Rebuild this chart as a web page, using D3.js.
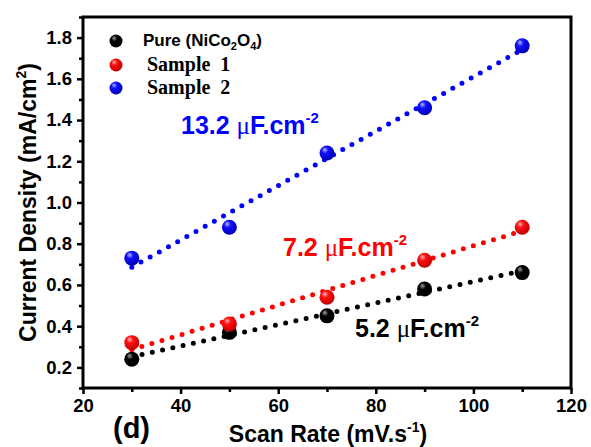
<!DOCTYPE html>
<html>
<head>
<meta charset="utf-8">
<script src="https://cdn.jsdelivr.net/npm/d3@7"></script>
<style>
  html, body { margin: 0; padding: 0; background: #fff; }
  svg { display: block; font-family: "Liberation Sans", Arial, sans-serif; font-weight: bold; }
</style>
</head>
<body>
<svg id="chart" width="591" height="447"></svg>
<script>
// Scan rates (mV/s)
const scanRates = [30, 50, 70, 90, 110];
// Current density (mA/cm^2) for each sample
const pureValues = [0.24, 0.37, 0.45, 0.58, 0.66];
const sample1Values = [0.32, 0.41, 0.54, 0.72, 0.88];
const sample2Values = [0.73, 0.88, 1.24, 1.46, 1.76];
// Double-layer capacitance stated for each fit (uF/cm^2)
const capacitances = [5.2, 7.2, 13.2];
const seriesNames = ["Pure", "Sample  1", "Sample  2"];
const seriesColors = ["#000000", "#ff0000", "#0000ff"];
// Axis ticks
const xTicks = [20, 40, 60, 80, 100, 120];
const xMinorTicks = [30, 50, 70, 90, 110];
const yTicks = [0.2, 0.4, 0.6, 0.8, 1.0, 1.2, 1.4, 1.6, 1.8];
const yMinorTicks = [0.1, 0.3, 0.5, 0.7, 0.9, 1.1, 1.3, 1.5, 1.7, 1.9];

const sans = "'Liberation Sans', Arial, sans-serif";
const serif = "'Liberation Serif', 'Times New Roman', serif";

const svg = d3.select("#chart");
const plot = { left: 83, top: 17, right: 571, bottom: 388 };

const x = d3.scaleLinear().domain([20, 120]).range([plot.left, plot.right]);
const y = d3.scaleLinear().domain([0.1, 1.9]).range([plot.bottom, plot.top]);

// Glossy sphere gradients for markers
const defs = svg.append("defs");
const sphereStops = [
  ["#a0a0a0", "#000000", "#000000"],
  ["#ffb8b8", "#ff1010", "#c00000"],
  ["#b8b8ff", "#1010ff", "#0000b0"]
];
sphereStops.forEach((s, i) => {
  const g = defs.append("radialGradient")
    .attr("id", "sphere" + i)
    .attr("cx", "40%").attr("cy", "35%").attr("r", "65%")
    .attr("fx", "35%").attr("fy", "28%");
  g.append("stop").attr("offset", "0%").attr("stop-color", s[0]);
  g.append("stop").attr("offset", "35%").attr("stop-color", s[1]);
  g.append("stop").attr("offset", "100%").attr("stop-color", s[2]);
});

// Axes
svg.append("g").attr("transform", `translate(${plot.left},0)`)
  .call(d3.axisLeft(y).tickValues(yTicks).tickSize(6).tickPadding(5).tickFormat(d3.format(".1f")));
svg.append("g").attr("transform", `translate(${plot.left},0)`)
  .call(d3.axisLeft(y).tickValues(yMinorTicks).tickSize(4).tickFormat(""));
svg.append("g").attr("transform", `translate(0,${plot.bottom})`)
  .call(d3.axisBottom(x).tickValues(xTicks).tickSize(6).tickPadding(5).tickFormat(d3.format("d")));
svg.append("g").attr("transform", `translate(0,${plot.bottom})`)
  .call(d3.axisBottom(x).tickValues(xMinorTicks).tickSize(4).tickFormat(""));

svg.selectAll(".domain").remove();
svg.selectAll(".tick line").attr("stroke", "#000").attr("stroke-width", 2.5);
svg.selectAll(".tick text")
  .style("font-family", sans).style("font-weight", "bold").style("font-size", "18.5px")
  .attr("fill", "#000");

// Frame
svg.append("rect")
  .attr("x", plot.left).attr("y", plot.top)
  .attr("width", plot.right - plot.left).attr("height", plot.bottom - plot.top)
  .attr("fill", "none").attr("stroke", "#000").attr("stroke-width", 3);

const allSeries = [pureValues, sample1Values, sample2Values];

// Linear fits: slope from stated capacitance, passing through the data centroid
allSeries.forEach((vals, i) => {
  const mx = d3.mean(scanRates), my = d3.mean(vals);
  const slope = capacitances[i] / 1000;
  const x0 = scanRates[0], x1 = scanRates[scanRates.length - 1];
  const line = d3.line().x(d => x(d[0])).y(d => y(d[1]));
  svg.append("path")
    .attr("d", line([[x0, my + slope * (x0 - mx)], [x1, my + slope * (x1 - mx)]]))
    .attr("fill", "none")
    .attr("stroke", seriesColors[i])
    .attr("stroke-width", 5)
    .attr("stroke-linecap", "round")
    .attr("stroke-dasharray", "0 10.5");
});

// Data markers
allSeries.forEach((vals, i) => {
  svg.append("g").selectAll("circle")
    .data(vals)
    .join("circle")
    .attr("cx", (d, j) => x(scanRates[j]))
    .attr("cy", d => y(d))
    .attr("r", 7.5)
    .attr("fill", `url(#sphere${i})`);
});

// Capacitance annotations
function capLabel(i, px, py) {
  const t = svg.append("text").attr("x", px).attr("y", py)
    .style("font-size", "25px").attr("fill", seriesColors[i]);
  t.append("tspan").text(capacitances[i].toFixed(1) + " ");
  t.append("tspan").style("font-family", serif).style("font-weight", "normal").text("\u03bc");
  t.append("tspan").text("F.cm");
  t.append("tspan").style("font-size", "15px").attr("dy", -11).text("-2");
}
capLabel(2, 181, 134);
capLabel(1, 283, 256);
capLabel(0, 355, 337);

// Legend
const legendY = [41, 65, 88];
legendY.forEach((ly, i) => {
  svg.append("circle").attr("cx", 116).attr("cy", ly).attr("r", 6.5)
    .attr("fill", `url(#sphere${i})`);
});
const lg0 = svg.append("text").attr("x", 143).attr("y", 46).style("font-size", "17px").attr("fill", "#000");
lg0.append("tspan").text("Pure (NiCo");
lg0.append("tspan").style("font-size", "11px").attr("dy", 4).text("2");
lg0.append("tspan").attr("dy", -4).text("O");
lg0.append("tspan").style("font-size", "11px").attr("dy", 4).text("4");
lg0.append("tspan").attr("dy", -4).text(")");
[1, 2].forEach(i => {
  svg.append("text").attr("x", 147).attr("y", legendY[i] + 6)
    .style("font-family", serif).style("font-weight", "bold")
    .style("font-size", "20px").style("white-space", "pre")
    .attr("fill", "#000")
    .text(seriesNames[i]);
});

// Axis titles
const yt = svg.append("text")
  .attr("transform", `translate(36,${(plot.top + plot.bottom) / 2}) rotate(-90)`)
  .attr("text-anchor", "middle").style("font-size", "23px").attr("fill", "#000");
yt.append("tspan").text("Current Density (mA/cm");
yt.append("tspan").style("font-size", "14px").attr("dy", -10).text("2");
yt.append("tspan").attr("dy", 10).text(")");

const xt = svg.append("text")
  .attr("x", 328).attr("y", 442)
  .attr("text-anchor", "middle").style("font-size", "23px").attr("fill", "#000");
xt.append("tspan").text("Scan Rate (mV.s");
xt.append("tspan").style("font-size", "14px").attr("dy", -10).text("-1");
xt.append("tspan").attr("dy", 10).text(")");

svg.append("text").attr("x", 113).attr("y", 438)
  .style("font-size", "29px").attr("fill", "#000").text("(d)");
</script>
</body>
</html>
